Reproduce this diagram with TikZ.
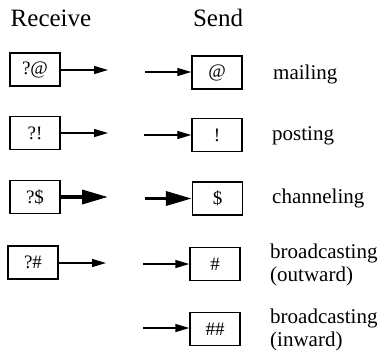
\documentclass[tikz,border=0pt]{standalone}
\usepackage{fontspec}
\setmainfont{Liberation Serif}
\usetikzlibrary{arrows.meta}
\tikzset{
  box/.style={draw, line width=1.4pt, minimum width=50pt, minimum height=33pt, inner sep=0pt, font=\fontsize{19}{21}\selectfont},
  thin arrow/.style={line width=1.3pt, -{Triangle[length=14pt,width=8pt]}},
  thick arrow/.style={line width=3.5pt, -{Triangle[length=26pt,width=14pt]}},
  head/.style={font=\fontsize{25}{27}\selectfont},
  lbl/.style={anchor=west, align=left, inner sep=0pt, font=\fontsize{21}{23}\selectfont}
}
\begin{document}
\begin{tikzpicture}[x=1pt,y=-1pt]
\useasboundingbox (0,0) rectangle (387,360);
\node[head] (hr) at (51,18) {Receive};
\node[head] (hs) at (218,18) {Send};
% row 1
\node[box] (r1) at (35,69.5) {?@};
\coordinate (r1e) at (108,70);
\coordinate (s1s) at (145,72);
\node[box] (s1) at (217,72.5) {@};
\node[lbl] (l1) at (273,74) {mailing};
\draw[thin arrow] (r1.east |- r1e) -- (r1e);
\draw[thin arrow] (s1s) -- (s1.west |- s1s);
% row 2
\node[box] (r2) at (35,133) {?!};
\coordinate (r2e) at (108,133);
\coordinate (s2s) at (144,135);
\node[box] (s2) at (217,135) {!};
\node[lbl] (l2) at (272,136) {posting};
\draw[thin arrow] (r2.east |- r2e) -- (r2e);
\draw[thin arrow] (s2s) -- (s2.west |- s2s);
% row 3
\node[box] (r3) at (35,197) {?\$};
\coordinate (r3e) at (108,197);
\coordinate (s3s) at (145,198.5);
\node[box] (s3) at (217.5,198.5) {\$};
\node[lbl] (l3) at (272,198) {channeling};
\draw[thick arrow] (r3.east |- r3e) -- (r3e);
\draw[thick arrow] (s3s) -- (s3.west |- s3s);
% row 4
\node[box] (r4) at (33,262.5) {?\#};
\coordinate (r4e) at (106,263);
\coordinate (s4s) at (143,264);
\node[box] (s4) at (215,264) {\#};
\node[lbl] (l4) at (270,265) {broadcasting\\(outward)};
\draw[thin arrow] (r4.east |- r4e) -- (r4e);
\draw[thin arrow] (s4s) -- (s4.west |- s4s);
% row 5
\coordinate (s5s) at (143,328);
\node[box] (s5) at (215,329) {\#\#};
\node[lbl] (l5) at (270,330) {broadcasting\\(inward)};
\draw[thin arrow] (s5s) -- (s5.west |- s5s);
\end{tikzpicture}
\end{document}
